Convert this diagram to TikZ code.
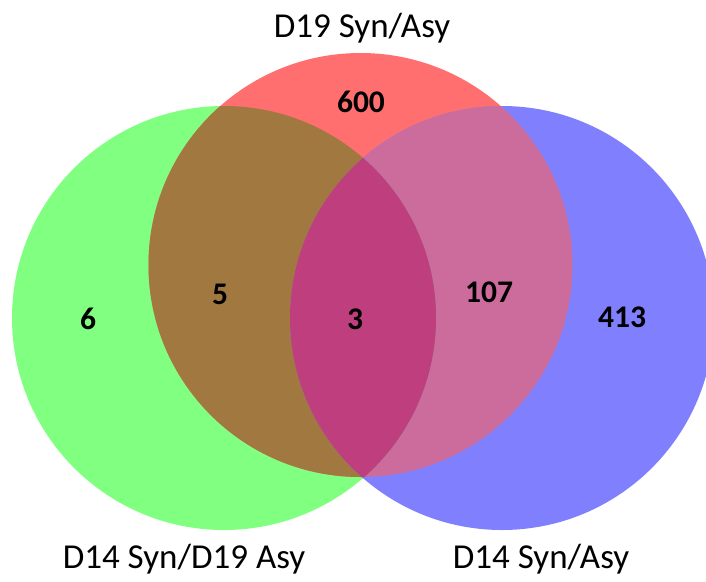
\documentclass[tikz,border=0pt]{standalone}
\usepackage{fontspec}
\setmainfont{Carlito}
\usepackage{xcolor}
\definecolor{vgreen}{HTML}{80FF80}
\definecolor{vred}{HTML}{FF6F6F}
\definecolor{vblue}{HTML}{8080FF}
\definecolor{vgr}{HTML}{A07840}
\definecolor{vrb}{HTML}{CC6C9C}
\definecolor{vgb}{HTML}{6E8A8A}
\definecolor{vall}{HTML}{BE3E7E}

\begin{document}
\begin{tikzpicture}[x=1pt, y=-1pt,
    num/.style={font=\bfseries\fontsize{31.5}{31.5}\selectfont},
    lbl/.style={font=\fontsize{35}{35}\selectfont, anchor=base}]
  \useasboundingbox (0,0) rectangle (706,581);
  \clip (0,0) rectangle (706,581);
  \def\cgreen{(224,318) circle (212)}
  \def\cred{(360.5,265) circle (212)}
  \def\cblue{(502,318) circle (212)}

  % plain circles
  \fill[vgreen] \cgreen;
  \fill[vred] \cred;
  \fill[vblue] \cblue;

  % pairwise overlaps
  \begin{scope}
    \clip \cgreen;
    \fill[vgr] \cred;
  \end{scope}
  \begin{scope}
    \clip \cred;
    \fill[vrb] \cblue;
  \end{scope}
  \begin{scope}
    \clip \cgreen;
    \fill[vgb] \cblue;
  \end{scope}

  % centre
  \begin{scope}
    \clip \cgreen;
    \clip \cred;
    \fill[vall] \cblue;
  \end{scope}

  % counts
  \node[num] (n600) at (361,102) {600};
  \node[num] (n6) at (88,319) {6};
  \node[num] (n5) at (220,294) {5};
  \node[num] (n3) at (355,319) {3};
  \node[num] (n107) at (489,292) {107};
  \node[num] (n413) at (622,317) {413};

  % set names
  \node[lbl] (dnineteen) at (362,37) {D19 Syn/Asy};
  \node[lbl] (dmixed) at (184,568) {D14 Syn/D19 Asy};
  \node[lbl] (dfourteen) at (541,568) {D14 Syn/Asy};
\end{tikzpicture}
\end{document}
